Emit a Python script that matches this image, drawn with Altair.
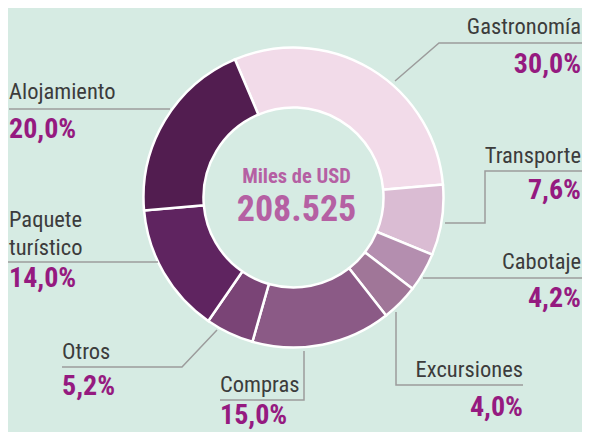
import altair as alt
import pandas as pd
import math

# ---- data ----
categories = ["Gastronomía", "Transporte", "Cabotaje", "Excursiones",
              "Compras", "Otros", "Paquete turístico", "Alojamiento"]
shares = [30.0, 7.6, 4.2, 4.0, 15.0, 5.2, 14.0, 20.0]
total_label = "Miles de USD"
total_value = 208525

# ---- styles ----
slice_colors = ["#f2dbe9", "#dabcd3", "#b48eaf", "#a07698",
                "#8b5a86", "#7a4476", "#5f2460", "#521d50"]
BG = "#d6ebe3"
NAME_COLOR = "#3c3c3c"
PCT_COLOR = "#951a80"
CENTER_COLOR = "#b560a3"
LINE_COLOR = "#9c9c9c"
FONT = "Roboto Condensed, Liberation Sans Narrow, Arial Narrow, Roboto"

W, H = 574, 424
CX, CY = 285.5, 189.5
R_OUT, R_IN = 150, 90
START = -0.401  # radians, start angle of first slice

# ---- label layout (pixel positions inside the chart) ----
label_side = ["right", "right", "right", "right", "left", "left", "left", "left"]
name_x = [573, 573, 573, 515, 212, 54, 1, 1]
name_y = [26, 155, 261, 369, 384, 351, 219, 91]
pct_y = [65, 191, 299, 408, 416, 387, 279, 130]
leader_points = [
    [(387, 73), (431, 35), (574, 35)],
    [(437, 215), (477, 215), (477, 163), (574, 163)],
    [(415, 270), (574, 270)],
    [(388, 304), (388, 377), (515, 377)],
    [(296, 343), (296, 392), (212, 392)],
    [(209, 322), (174, 359), (54, 359)],
    [(150, 254), (0, 254)],
    [(162, 101), (1, 101)],
]

def fmt_pct(v):
    return f"{v:.1f}".replace(".", ",") + "%"

slices = pd.DataFrame({
    "cat": categories,
    "share": shares,
    "order": list(range(len(categories))),
})

labels = pd.DataFrame({
    "cat": categories,
    "name": [c.replace(" ", "\n") if c == "Paquete turístico" else c for c in categories],
    "pct": [fmt_pct(v) for v in shares],
    "side": label_side,
    "nx": name_x,
    "ny": name_y,
    "py": pct_y,
})

lines_rows = []
for cat, pts in zip(categories, leader_points):
    for i, (px, py) in enumerate(pts):
        lines_rows.append({"cat": cat, "i": i, "x": px, "y": py})
lines = pd.DataFrame(lines_rows)

xs = alt.Scale(domain=[0, W], nice=False, zero=False)
ys = alt.Scale(domain=[0, H], nice=False, zero=False, reverse=True)

donut = alt.Chart(slices).mark_arc(
    innerRadius=R_IN, outerRadius=R_OUT, stroke="white", strokeWidth=2.5
).encode(
    theta=alt.Theta("share:Q", stack=True,
                    scale=alt.Scale(range=[START, START + 2 * math.pi])),
    color=alt.Color("cat:N", scale=alt.Scale(domain=categories, range=slice_colors), legend=None),
    order=alt.Order("order:Q"),
    x=alt.value(CX),
    y=alt.value(CY),
)

leaders = alt.Chart(lines).mark_line(color=LINE_COLOR, strokeWidth=1.5).encode(
    x=alt.X("x:Q", scale=xs, axis=None),
    y=alt.Y("y:Q", scale=ys, axis=None),
    detail="cat:N",
    order="i:Q",
)

def name_layer(side):
    return alt.Chart(labels).transform_filter(
        alt.datum.side == side
    ).mark_text(
        align=side, baseline="alphabetic", font=FONT, fontSize=22.5,
        color=NAME_COLOR, lineBreak="\n", lineHeight=28
    ).encode(
        x=alt.X("nx:Q", scale=xs, axis=None),
        y=alt.Y("ny:Q", scale=ys, axis=None),
        text="name:N",
    )

def pct_layer(side):
    return alt.Chart(labels).transform_filter(
        alt.datum.side == side
    ).mark_text(
        align=side, baseline="alphabetic", font=FONT, fontSize=28,
        fontWeight="bold", color=PCT_COLOR
    ).encode(
        x=alt.X("nx:Q", scale=xs, axis=None),
        y=alt.Y("py:Q", scale=ys, axis=None),
        text="pct:N",
    )

center = pd.DataFrame({
    "t": [total_label, f"{total_value:,}".replace(",", ".")],
})
center_text1 = alt.Chart(center.iloc[[0]]).mark_text(
    align="center", baseline="alphabetic", font=FONT, fontSize=20.5,
    fontWeight="bold", color=CENTER_COLOR
).encode(x=alt.value(288.5), y=alt.value(175), text="t:N")
center_text2 = alt.Chart(center.iloc[[1]]).mark_text(
    align="center", baseline="alphabetic", font=FONT, fontSize=36,
    fontWeight="bold", color=CENTER_COLOR
).encode(x=alt.value(288.5), y=alt.value(213), text="t:N")

chart = alt.layer(
    donut, leaders,
    name_layer("left"), name_layer("right"),
    pct_layer("left"), pct_layer("right"),
    center_text1, center_text2,
).properties(
    width=W, height=H, autosize="none", padding=0, background=BG
).configure_view(stroke=None)

chart.save("out.html", embed_options={"renderer": "svg", "actions": False})
